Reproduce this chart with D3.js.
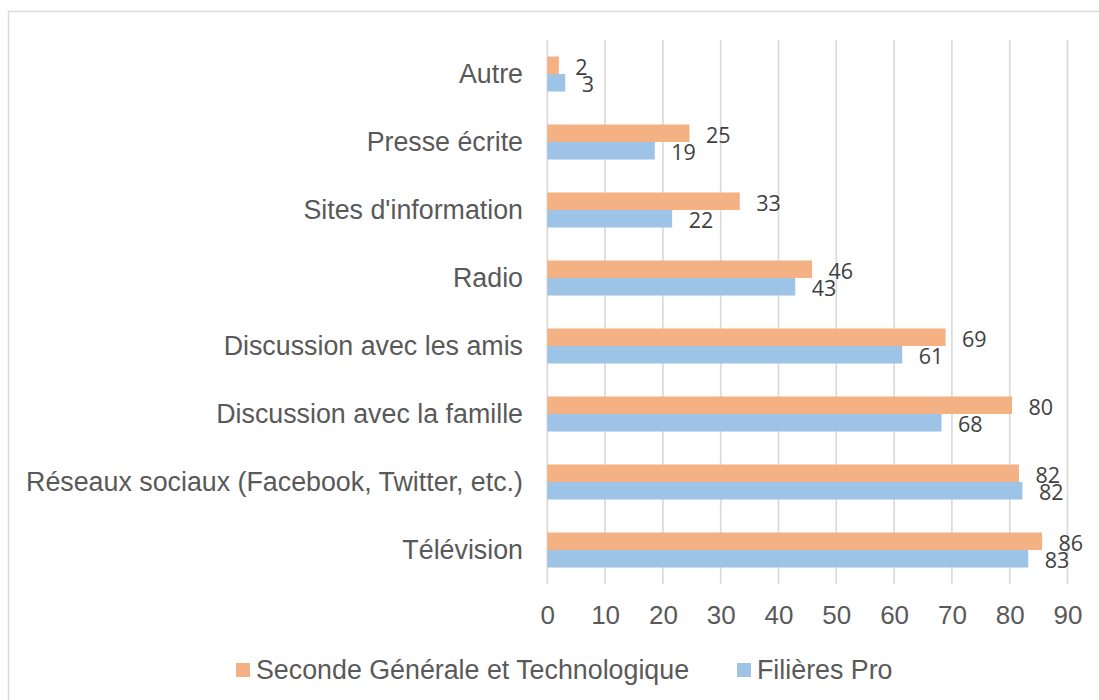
<!DOCTYPE html>
<html>
<head>
<meta charset="utf-8">
<script src="https://cdn.jsdelivr.net/npm/d3@7"></script>
<style>
  html, body { margin: 0; padding: 0; background: #fff; }
  svg { display: block; }
</style>
</head>
<body>
<svg id="chart" width="1099" height="700"></svg>
<script>
// ---- data ----
const categories = [
  "Autre",
  "Presse écrite",
  "Sites d'information",
  "Radio",
  "Discussion avec les amis",
  "Discussion avec la famille",
  "Réseaux sociaux (Facebook, Twitter, etc.)",
  "Télévision"
];
const seriesNames = ["Seconde Générale et Technologique", "Filières Pro"];
const secondeValues = [2.0, 24.6, 33.3, 45.8, 68.9, 80.4, 81.6, 85.6];
const proValues     = [3.1, 18.6, 21.6, 42.9, 61.4, 68.2, 82.2, 83.2];
const xTicks = [0, 10, 20, 30, 40, 50, 60, 70, 80, 90];
const seriesColors = ["#F4B183", "#9DC3E6"];

// ---- drawing ----
const svg = d3.select("#chart");
const textColor = "#595959";
const gridColor = "#d9d9d9";

// outer border
svg.append("rect")
  .attr("x", 8.5).attr("y", 11.5)
  .attr("width", 1200).attr("height", 800)
  .attr("fill", "none").attr("stroke", gridColor).attr("stroke-width", 1.5);

const x = d3.scaleLinear().domain([0, 90]).range([547.3, 1067.5]);
const y = d3.scaleBand().domain(categories).range([40, 584])
  .paddingInner(0.485).paddingOuter(0.2425);
const ySub = d3.scaleBand().domain(seriesNames).range([0, y.bandwidth()]);

// gridlines
svg.append("g").selectAll("line").data(xTicks).join("line")
  .attr("x1", d => x(d)).attr("x2", d => x(d))
  .attr("y1", 40).attr("y2", 584)
  .attr("stroke", gridColor).attr("stroke-width", 1.6);

// x axis tick labels
const xAxis = d3.axisBottom(x).tickValues(xTicks).tickSize(0).tickPadding(0).tickFormat(d3.format("d"));
const gx = svg.append("g").call(xAxis);
gx.select(".domain").remove();
gx.selectAll("text")
  .attr("y", 624).attr("dy", null)
  .attr("fill", textColor)
  .style("font-family", "'Liberation Sans', Arial, sans-serif")
  .style("font-size", "26px");

// category labels
const yAxis = d3.axisLeft(y).tickSize(0).tickPadding(0);
const gy = svg.append("g").call(yAxis);
gy.select(".domain").remove();
gy.selectAll("text")
  .attr("x", 523).attr("dy", null)
  .attr("y", 8.5)
  .attr("text-anchor", "end")
  .attr("fill", textColor)
  .style("font-family", "'Liberation Sans', Arial, sans-serif")
  .style("font-size", "26.8px");
gy.selectAll(".tick").attr("transform", d => `translate(0,${y(d) + y.bandwidth() / 2})`);

// bars
const rows = categories.map((c, i) => ({
  cat: c,
  vals: [
    { s: seriesNames[0], v: secondeValues[i], c: seriesColors[0] },
    { s: seriesNames[1], v: proValues[i], c: seriesColors[1] }
  ]
}));

const groups = svg.append("g").selectAll("g").data(rows).join("g")
  .attr("transform", d => `translate(0,${y(d.cat)})`);

groups.selectAll("rect").data(d => d.vals).join("rect")
  .attr("x", x(0))
  .attr("y", d => ySub(d.s))
  .attr("width", d => x(d.v) - x(0))
  .attr("height", ySub.bandwidth())
  .attr("fill", d => d.c);

groups.selectAll("text").data(d => d.vals).join("text")
  .attr("x", d => x(d.v) + 16.5)
  .attr("y", d => ySub(d.s) + ySub.bandwidth() / 2 + 1)
  .attr("dominant-baseline", "central")
  .attr("fill", "#404040")
  .style("font-family", "'Open Sans', sans-serif")
  .style("font-size", "21.5px")
  .text(d => Math.round(d.v));

// legend
const legend = svg.append("g");
const legendItems = [
  { name: seriesNames[0], color: seriesColors[0], x: 236 },
  { name: seriesNames[1], color: seriesColors[1], x: 737 }
];
legendItems.forEach(item => {
  legend.append("rect")
    .attr("x", item.x).attr("y", 663)
    .attr("width", 14).attr("height", 14)
    .attr("fill", item.color);
  legend.append("text")
    .attr("x", item.x + 20).attr("y", 679)
    .attr("fill", textColor)
    .style("font-family", "'Liberation Sans', Arial, sans-serif")
    .style("font-size", "26.8px")
    .text(item.name);
});
</script>
</body>
</html>
